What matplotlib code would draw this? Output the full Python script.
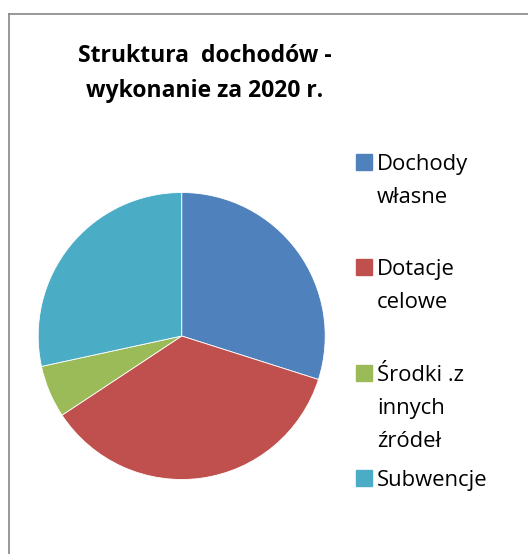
import matplotlib
matplotlib.use("Agg")
import matplotlib.pyplot as plt
from matplotlib.lines import Line2D
from matplotlib.patches import Rectangle

plt.rcParams['font.family'] = ['Open Sans', 'DejaVu Sans']

title = "Struktura  dochodów -\nwykonanie za 2020 r."
labels = ["Dochody\nwłasne", "Dotacje\ncelowe", "Środki .z\ninnych\nźródeł", "Subwencje"]
shares = [29.9, 35.8, 5.9, 28.4]
colors = ["#4F81BD", "#C0504D", "#9BBB59", "#4BACC6"]

W, H = 528, 554
fig = plt.figure(figsize=(W / 100, H / 100), dpi=100)

# pie, centre ~ (182, 336) px, radius ~ 144 px
cx, cy, r = 181.7, 336, 143.5
ax = fig.add_axes([(cx - r) / W, (H - cy - r) / H, 2 * r / W, 2 * r / H])
ax.pie(shares, colors=colors, startangle=90, counterclock=False, radius=1,
       wedgeprops=dict(linewidth=0.6, edgecolor='white'))
ax.set_xlim(-1, 1)
ax.set_ylim(-1, 1)
ax.axis('off')

# title, two lines ~35 px apart
for i, line in enumerate(title.split("\n")):
    fig.text(205 / W, 1 - (53 + 35 * i) / H, line, ha='center',
             va='center_baseline', fontsize=16.5, fontweight='bold')

# legend: one line of text every ~33 px
tops = [162, 267, 373, 478]
for lab, col, y in zip(labels, colors, tops):
    fig.patches.append(Rectangle((356 / W, 1 - (y + 8) / H), 16 / W, 16 / H,
                                 transform=fig.transFigure, color=col))
    for i, line in enumerate(lab.split("\n")):
        fig.text(377 / W, 1 - (y + 33 * i) / H, line, ha='left',
                 va='center_baseline', fontsize=15.8)

# frame (left and top only visible)
fig.lines.append(Line2D([8.5 / W, 8.5 / W], [0, 1 - 14 / H], transform=fig.transFigure,
                        color='#868686', lw=1.2))
fig.lines.append(Line2D([8.5 / W, 1], [1 - 14 / H, 1 - 14 / H], transform=fig.transFigure,
                        color='#868686', lw=1.2))

fig.savefig("out.png", dpi=100)
